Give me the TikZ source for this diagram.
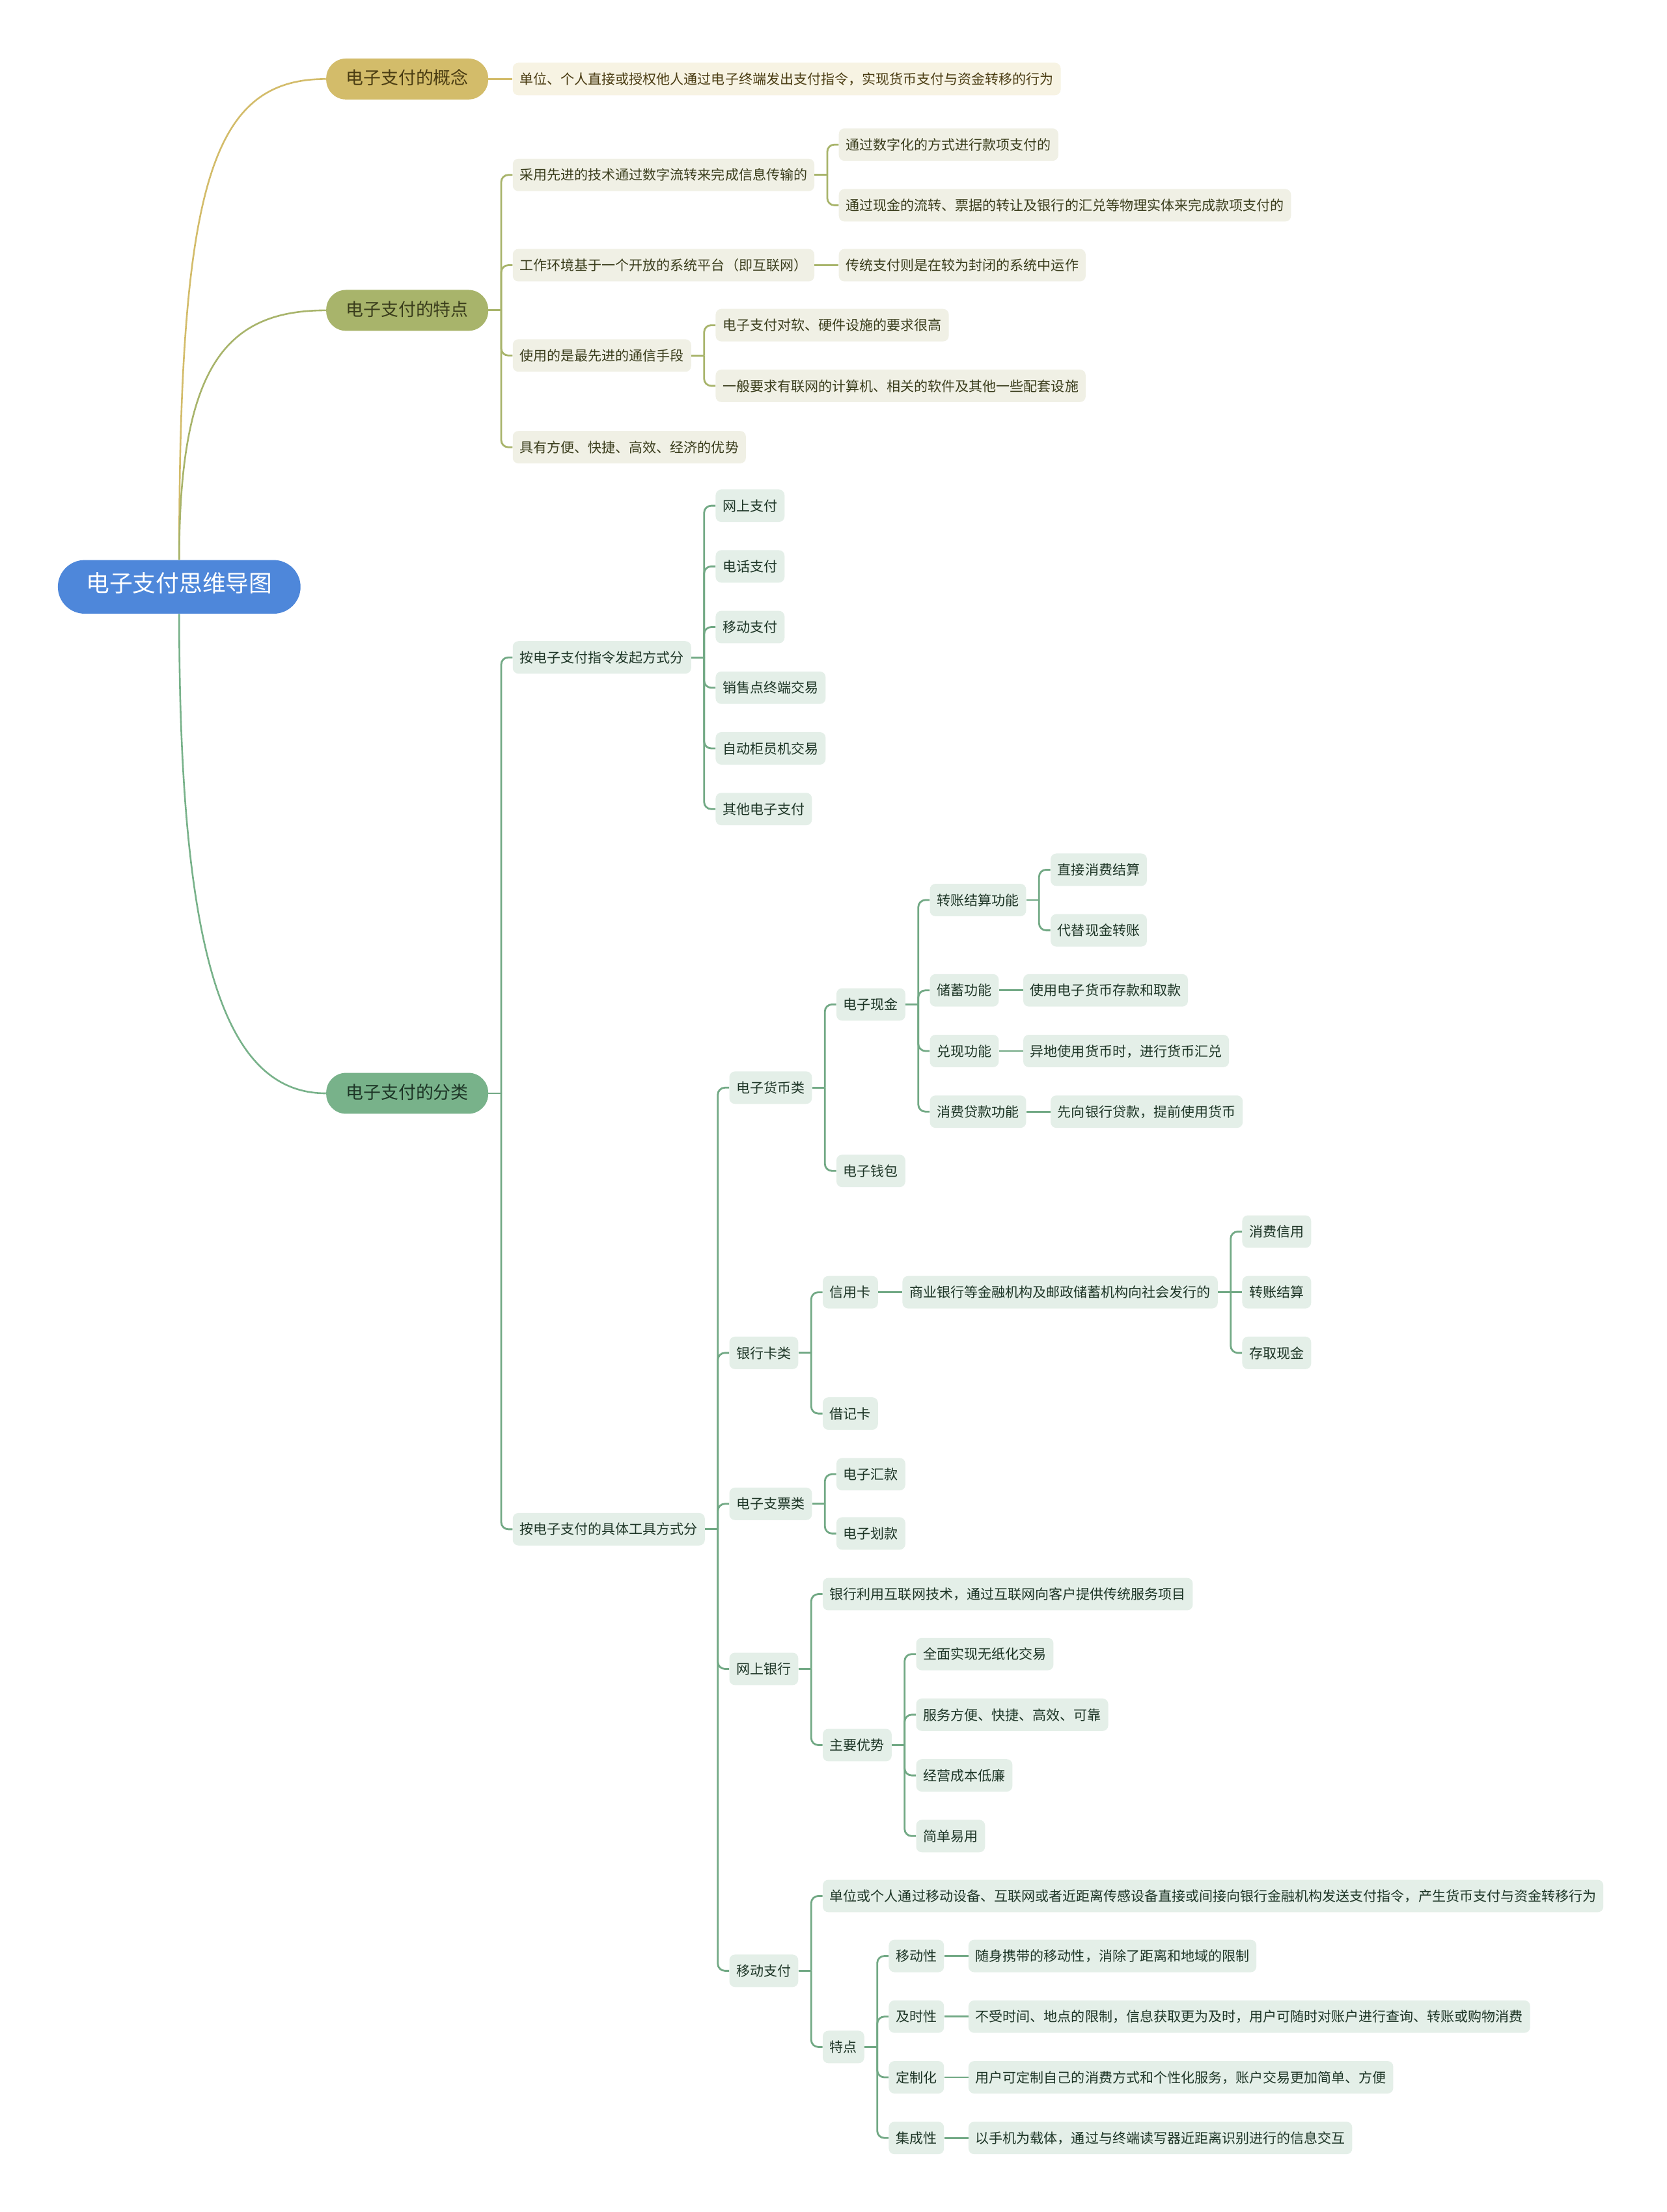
\documentclass[tikz,border=0pt]{standalone}
\usepackage{fontspec}
\setmainfont{Noto Sans CJK SC}
\usetikzlibrary{calc}
\definecolor{rootblue}{HTML}{4E87DA}
\definecolor{ycol}{HTML}{D3BC6A}
\definecolor{ocol}{HTML}{A8B46B}
\definecolor{gcol}{HTML}{78B28A}
\definecolor{glinec}{HTML}{72A985}
\definecolor{yfill}{HTML}{F7F3E3}
\definecolor{ofill}{HTML}{F0F0E5}
\definecolor{gfill}{HTML}{E4EFE8}
\definecolor{ytext}{HTML}{4A3C12}
\definecolor{otext}{HTML}{3A3D1C}
\definecolor{gtext}{HTML}{1D3526}
\newcommand\mkid[5]{\node[#1] (#2) at ($(#3.east)+(17pt,#4)$) {#5};}
\newcommand\mfork[3]{\draw[#1] (#2.east) -- ++(9pt,0); \draw[#1] (#2.east) ++(9pt,0) |- (#3.west);}
\newcommand\mline[3]{\draw[#1] (#2.east) -- (#3.west);}
\tikzset{
  leafbase/.style={rounded corners=4pt, inner xsep=5pt, inner ysep=0pt, minimum height=23pt,
    font=\fontsize{9.7pt}{11pt}\selectfont, anchor=west, text height=.85em, text depth=.1em},
  yleaf/.style={leafbase, fill=yfill, text=ytext},
  oleaf/.style={leafbase, fill=ofill, text=otext},
  gleaf/.style={leafbase, fill=gfill, text=gtext},
  mainnode/.style={rounded corners=14pt, minimum height=29pt, inner xsep=14pt, inner ysep=0pt,
    font=\fontsize{12.4pt}{14pt}\selectfont, anchor=west, text height=.85em, text depth=.1em},
  rootnode/.style={rounded corners=19pt, minimum height=38pt, inner xsep=20pt, inner ysep=0pt,
    font=\fontsize{16.5pt}{18pt}\selectfont, fill=rootblue, text=white, text height=.85em, text depth=.1em},
  yline/.style={draw=ycol, line width=1.3pt, rounded corners=5pt},
  oline/.style={draw=ocol, line width=1.3pt, rounded corners=5pt},
  gline/.style={draw=glinec, line width=1.3pt, rounded corners=5pt},
  curve/.style={line width=1.2pt},
}
\begin{document}
\begin{tikzpicture}[x=1pt,y=1pt]
\useasboundingbox (0,0) rectangle (1181,-1568);
\fill[white] (0,0) rectangle (1181,-1568);
% root and main branches
\node[rootnode] (R) at (127,-416) {电子支付思维导图};
\node[mainnode, fill=ycol, text=ytext] (A) at (231,-56) {电子支付的概念};
\node[mainnode, fill=ocol, text=otext] (B) at (231,-220) {电子支付的特点};
\node[mainnode, fill=gcol, text=gtext] (C) at (231,-775) {电子支付的分类};
\draw[curve, ycol] (R.north) .. controls +(0,267) and +(-81,0) .. (A.west);
\draw[curve, ocol] (R.north) .. controls +(0,137) and +(-71,0) .. (B.west);
\draw[curve, gcol] (R.south) .. controls +(0,-245) and +(-71,0) .. (C.west);

% concept
\mkid{yleaf}{A1}{A}{0pt}{单位、个人直接或授权他人通过电子终端发出支付指令，实现货币支付与资金转移的行为}
\mline{yline}{A}{A1}

% features
\mkid{oleaf}{B1}{B}{96pt}{采用先进的技术通过数字流转来完成信息传输的}
\mkid{oleaf}{B2}{B}{32pt}{工作环境基于一个开放的系统平台（即互联网）}
\mkid{oleaf}{B3}{B}{-32pt}{使用的是最先进的通信手段}
\mkid{oleaf}{B4}{B}{-97pt}{具有方便、快捷、高效、经济的优势}
\foreach \k in {B1,B2,B3,B4} {\mfork{oline}{B}{\k}}
\mkid{oleaf}{B1a}{B1}{21.5pt}{通过数字化的方式进行款项支付的}
\mkid{oleaf}{B1b}{B1}{-21.5pt}{通过现金的流转、票据的转让及银行的汇兑等物理实体来完成款项支付的}
\mfork{oline}{B1}{B1a}\mfork{oline}{B1}{B1b}
\mkid{oleaf}{B2a}{B2}{0pt}{传统支付则是在较为封闭的系统中运作}
\mline{oline}{B2}{B2a}
\mkid{oleaf}{B3a}{B3}{21.5pt}{电子支付对软、硬件设施的要求很高}
\mkid{oleaf}{B3b}{B3}{-21.5pt}{一般要求有联网的计算机、相关的软件及其他一些配套设施}
\mfork{oline}{B3}{B3a}\mfork{oline}{B3}{B3b}

% classification
\mkid{gleaf}{C1}{C}{309pt}{按电子支付指令发起方式分}
\mkid{gleaf}{C2}{C}{-309pt}{按电子支付的具体工具方式分}
\mfork{gline}{C}{C1}\mfork{gline}{C}{C2}
\mkid{gleaf}{C1a}{C1}{107.5pt}{网上支付}
\mkid{gleaf}{C1b}{C1}{64.5pt}{电话支付}
\mkid{gleaf}{C1c}{C1}{21.5pt}{移动支付}
\mkid{gleaf}{C1d}{C1}{-21.5pt}{销售点终端交易}
\mkid{gleaf}{C1e}{C1}{-64.5pt}{自动柜员机交易}
\mkid{gleaf}{C1f}{C1}{-107.5pt}{其他电子支付}
\foreach \k in {C1a,C1b,C1c,C1d,C1e,C1f} {\mfork{gline}{C1}{\k}}

\mkid{gleaf}{Da}{C2}{313pt}{电子货币类}
\mkid{gleaf}{Db}{C2}{125pt}{银行卡类}
\mkid{gleaf}{Dc}{C2}{18pt}{电子支票类}
\mkid{gleaf}{Dd}{C2}{-99pt}{网上银行}
\mkid{gleaf}{De}{C2}{-313pt}{移动支付}
\foreach \k in {Da,Db,Dc,Dd,De} {\mfork{gline}{C2}{\k}}

% electronic money
\mkid{gleaf}{Da1}{Da}{59pt}{电子现金}
\mkid{gleaf}{Da2}{Da}{-59pt}{电子钱包}
\mfork{gline}{Da}{Da1}\mfork{gline}{Da}{Da2}
\mkid{gleaf}{E1}{Da1}{74pt}{转账结算功能}
\mkid{gleaf}{E2}{Da1}{10pt}{储蓄功能}
\mkid{gleaf}{E3}{Da1}{-33pt}{兑现功能}
\mkid{gleaf}{E4}{Da1}{-76pt}{消费贷款功能}
\foreach \k in {E1,E2,E3,E4} {\mfork{gline}{Da1}{\k}}
\mkid{gleaf}{E1a}{E1}{21.5pt}{直接消费结算}
\mkid{gleaf}{E1b}{E1}{-21.5pt}{代替现金转账}
\mfork{gline}{E1}{E1a}\mfork{gline}{E1}{E1b}
\mkid{gleaf}{E2a}{E2}{0pt}{使用电子货币存款和取款}
\mkid{gleaf}{E3a}{E3}{0pt}{异地使用货币时，进行货币汇兑}
\mkid{gleaf}{E4a}{E4}{0pt}{先向银行贷款，提前使用货币}
\mline{gline}{E2}{E2a}\mline{gline}{E3}{E3a}\mline{gline}{E4}{E4a}

% bank cards
\mkid{gleaf}{Db1}{Db}{43pt}{信用卡}
\mkid{gleaf}{Db2}{Db}{-43pt}{借记卡}
\mfork{gline}{Db}{Db1}\mfork{gline}{Db}{Db2}
\mkid{gleaf}{F1}{Db1}{0pt}{商业银行等金融机构及邮政储蓄机构向社会发行的}
\mline{gline}{Db1}{F1}
\mkid{gleaf}{F1a}{F1}{43pt}{消费信用}
\mkid{gleaf}{F1b}{F1}{0pt}{转账结算}
\mkid{gleaf}{F1c}{F1}{-43pt}{存取现金}
\mfork{gline}{F1}{F1a}\mline{gline}{F1}{F1b}\mfork{gline}{F1}{F1c}

% cheques
\mkid{gleaf}{Dc1}{Dc}{21pt}{电子汇款}
\mkid{gleaf}{Dc2}{Dc}{-21pt}{电子划款}
\mfork{gline}{Dc}{Dc1}\mfork{gline}{Dc}{Dc2}

% online banking
\mkid{gleaf}{Dd1}{Dd}{53pt}{银行利用互联网技术，通过互联网向客户提供传统服务项目}
\mkid{gleaf}{Dd2}{Dd}{-54pt}{主要优势}
\mfork{gline}{Dd}{Dd1}\mfork{gline}{Dd}{Dd2}
\mkid{gleaf}{G1}{Dd2}{64.5pt}{全面实现无纸化交易}
\mkid{gleaf}{G2}{Dd2}{21.5pt}{服务方便、快捷、高效、可靠}
\mkid{gleaf}{G3}{Dd2}{-21.5pt}{经营成本低廉}
\mkid{gleaf}{G4}{Dd2}{-64.5pt}{简单易用}
\foreach \k in {G1,G2,G3,G4} {\mfork{gline}{Dd2}{\k}}

% mobile payment
\mkid{gleaf}{De1}{De}{53pt}{单位或个人通过移动设备、互联网或者近距离传感设备直接或间接向银行金融机构发送支付指令，产生货币支付与资金转移行为}
\mkid{gleaf}{De2}{De}{-54pt}{特点}
\mfork{gline}{De}{De1}\mfork{gline}{De}{De2}
\mkid{gleaf}{H1}{De2}{64.5pt}{移动性}
\mkid{gleaf}{H2}{De2}{21.5pt}{及时性}
\mkid{gleaf}{H3}{De2}{-21.5pt}{定制化}
\mkid{gleaf}{H4}{De2}{-64.5pt}{集成性}
\foreach \k in {H1,H2,H3,H4} {\mfork{gline}{De2}{\k}}
\mkid{gleaf}{H1a}{H1}{0pt}{随身携带的移动性，消除了距离和地域的限制}
\mkid{gleaf}{H2a}{H2}{0pt}{不受时间、地点的限制，信息获取更为及时，用户可随时对账户进行查询、转账或购物消费}
\mkid{gleaf}{H3a}{H3}{0pt}{用户可定制自己的消费方式和个性化服务，账户交易更加简单、方便}
\mkid{gleaf}{H4a}{H4}{0pt}{以手机为载体，通过与终端读写器近距离识别进行的信息交互}
\mline{gline}{H1}{H1a}\mline{gline}{H2}{H2a}\mline{gline}{H3}{H3a}\mline{gline}{H4}{H4a}
\end{tikzpicture}
\end{document}
